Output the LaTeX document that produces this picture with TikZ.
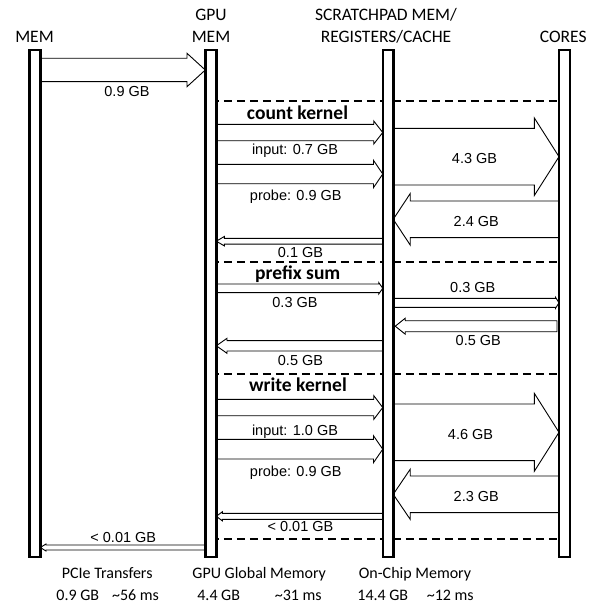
\documentclass[tikz,border=0pt]{standalone}
\usepackage{fontspec}
\setmainfont{Carlito}
\newfontfamily\arialf{Liberation Sans}
\usetikzlibrary{calc}
\tikzset{
 hdr/.style={font=\fontsize{17.5}{17.5}\selectfont, anchor=base, inner sep=0pt},
 lbl/.style={font=\arialf\fontsize{14.5}{14.5}\selectfont, anchor=base, inner sep=0pt},
 ttl/.style={font=\bfseries\fontsize{19.5}{19.5}\selectfont, anchor=base, inner sep=0pt},
 foot/.style={font=\fontsize{16}{16}\selectfont, anchor=base, inner sep=0pt},
 bar/.style={draw, fill=white, line width=2.5pt, minimum width=8.5pt, minimum height=504.5pt, inner sep=0pt},
 blk/.style={draw, fill=white, line width=0.9pt, line join=miter},
 sepline/.style={line width=2.2pt, dash pattern=on 8pt off 5pt},
}
% right-pointing block arrow: start, tip, y centre, shaft half, head half, head length
\newcommand\RArrow[6]{%
  \path[blk] let \p1=(#1), \p2=(#2) in
    (\x1,#3-#4) -- (\x2-#6pt,#3-#4) -- (\x2-#6pt,#3-#5) -- (\x2,#3)
    -- (\x2-#6pt,#3+#5) -- (\x2-#6pt,#3+#4) -- (\x1,#3+#4) -- cycle;}
% left-pointing block arrow: start (right end), tip, y centre, shaft half, head half, head length
\newcommand\LArrow[6]{%
  \path[blk] let \p1=(#1), \p2=(#2) in
    (\x1,#3-#4) -- (\x2+#6pt,#3-#4) -- (\x2+#6pt,#3-#5) -- (\x2,#3)
    -- (\x2+#6pt,#3+#5) -- (\x2+#6pt,#3+#4) -- (\x1,#3+#4) -- cycle;}
\begin{document}
\begin{tikzpicture}[x=1pt,y=-1pt]
\useasboundingbox (0,0) rectangle (598,607);
% bars as reference nodes first
\path node[bar, draw=none, fill=none] (mem) at (34.8,303.5) {}
      node[bar, draw=none, fill=none] (gpu) at (210.8,303.5) {}
      node[bar, draw=none, fill=none, minimum width=8pt] (sp) at (388,303.5) {}
      node[bar, draw=none, fill=none] (cores) at (564.5,303.5) {};

% section separators
\foreach \yy in {101,262.3,374,539}
  \draw[sepline] (gpu.center |- 0,\yy) -- (cores.center |- 0,\yy);

% transfers
\RArrow{mem.center}{gpu.west}{70}{11.7}{16.7}{18.3}
% count kernel
\RArrow{gpu.center}{sp.west}{132.5}{8.2}{11.5}{9}
\RArrow{gpu.center}{sp.west}{174}{9.7}{13.7}{9.3}
\RArrow{sp.center}{cores.west}{156.7}{28.3}{38.8}{24.7}
\LArrow{cores.center}{sp.east}{219.3}{18.3}{25.8}{17}
\LArrow{sp.center}{gpu.east}{241.2}{2.9}{4.7}{8}
% prefix sum
\RArrow{gpu.center}{sp.west}{288.3}{4.3}{5.7}{4}
\RArrow{sp.center}{cores.west}{302.8}{4.5}{5.5}{3.5}
\LArrow{[xshift=-2pt]cores.west}{[xshift=2pt]sp.east}{326.2}{5.5}{8}{10}
\LArrow{sp.center}{gpu.east}{345.8}{5.2}{7.5}{10.7}
% write kernel
\RArrow{gpu.center}{sp.west}{407.5}{8.2}{11.9}{9}
\RArrow{gpu.center}{sp.west}{449.2}{9.8}{13.5}{9.3}
\RArrow{sp.center}{cores.west}{432.3}{28.3}{39}{24.7}
\LArrow{cores.center}{sp.east}{494.3}{18.3}{25.1}{17}
\LArrow{sp.center}{gpu.east}{516.3}{3}{4.5}{6}
% back to host
\LArrow{gpu.center}{mem.east}{547.5}{2.5}{3.5}{5.7}

% bars drawn on top
\draw[line width=2.5pt, fill=white] (mem.south west) rectangle (mem.north east);
\draw[line width=2.5pt, fill=white] (gpu.south west) rectangle (gpu.north east);
\draw[line width=2.5pt, fill=white] (sp.south west) rectangle (sp.north east);
\draw[line width=2.5pt, fill=white] (cores.south west) rectangle (cores.north east);

% headers
\node[hdr] (hmem) at (34.5,42.7) {MEM};
\node[hdr] (hgpu1) at (211,20.7) {GPU};
\node[hdr] (hgpu2) at (211,42.7) {MEM};
\node[hdr] (hsp1) at (386,20.7) {SCRATCHPAD MEM/};
\node[hdr] (hsp2) at (386,42.7) {REGISTERS/CACHE};
\node[hdr] (hcores) at (563.3,42.7) {CORES};

% labels
\node[lbl] (l1) at (127,96) {0.9 GB};
\node[ttl] (t1) at (297.5,119) {count kernel};
\node[lbl] (l2) at (295,154.5) {input: 0.7 GB};
\node[lbl] (l3) at (295.8,200) {probe: 0.9 GB};
\node[lbl] (l4) at (474.5,163) {4.3 GB};
\node[lbl] (l5) at (476.3,226) {2.4 GB};
\node[lbl] (l6) at (300.5,257) {0.1 GB};
\node[ttl] (t2) at (297.8,279.5) {prefix sum};
\node[lbl] (l7) at (295,307) {0.3 GB};
\node[lbl] (l8) at (472.8,292) {0.3 GB};
\node[lbl] (l9) at (478.3,345.5) {0.5 GB};
\node[lbl] (l10) at (300.5,365) {0.5 GB};
\node[ttl] (t3) at (298,391) {write kernel};
\node[lbl] (l11) at (295,435) {input: 1.0 GB};
\node[lbl] (l12) at (295.8,476) {probe: 0.9 GB};
\node[lbl] (l13) at (470.5,439) {4.6 GB};
\node[lbl] (l14) at (476.3,501.7) {2.3 GB};
\node[lbl] (l15) at (300.5,531) {< 0.01 GB};
\node[lbl] (l16) at (123.3,542) {< 0.01 GB};

% footer
\node[foot] (f1) at (107.2,578.3) {PCIe Transfers};
\node[foot] (f2) at (77.8,600.7) {0.9 GB};
\node[foot] (f3) at (135.5,600.7) {\textasciitilde56 ms};
\node[foot] (f4) at (259.2,578.3) {GPU Global Memory};
\node[foot] (f5) at (218.7,600.7) {4.4 GB};
\node[foot] (f6) at (298.3,600.7) {\textasciitilde31 ms};
\node[foot] (f7) at (415,578.3) {On-Chip Memory};
\node[foot] (f8) at (382.8,600.7) {14.4 GB};
\node[foot] (f9) at (450.3,600.7) {\textasciitilde12 ms};
\end{tikzpicture}
\end{document}
